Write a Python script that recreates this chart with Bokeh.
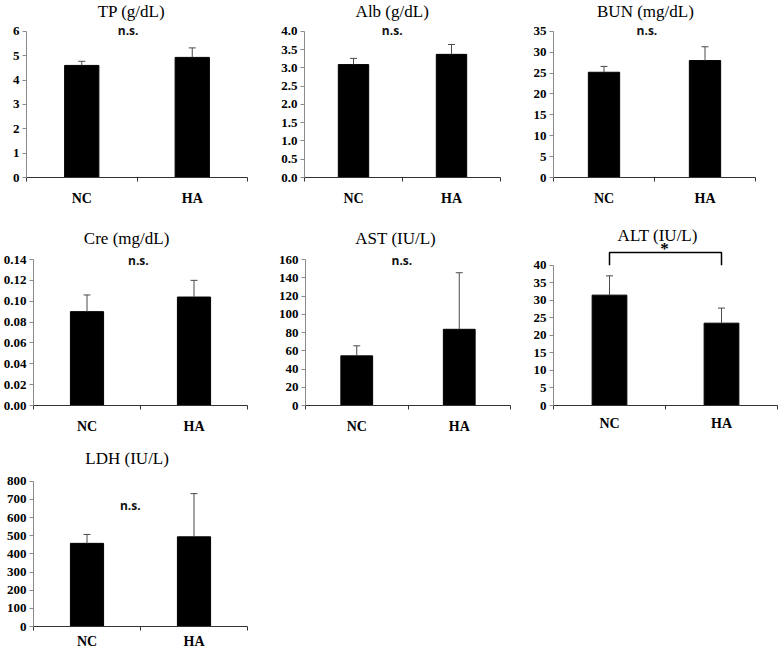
from bokeh.plotting import figure
from bokeh.models import Range1d, FixedTicker, NumeralTickFormatter
from bokeh.layouts import column, row
from bokeh.embed import file_html
from bokeh.resources import INLINE
from bokeh.core.properties import value

# ---------------- data ----------------
groups = ["NC", "HA"]
group_x = [1, 3]

tp_mean = [4.60, 4.93]
tp_sd = [0.17, 0.39]
tp_ticks = [0, 1, 2, 3, 4, 5, 6]

alb_mean = [3.09, 3.37]
alb_sd = [0.17, 0.27]
alb_ticks = [0.0, 0.5, 1.0, 1.5, 2.0, 2.5, 3.0, 3.5, 4.0]

bun_mean = [25.2, 28.0]
bun_sd = [1.4, 3.3]
bun_ticks = [0, 5, 10, 15, 20, 25, 30, 35]

cre_mean = [0.090, 0.104]
cre_sd = [0.016, 0.016]
cre_ticks = [0.00, 0.02, 0.04, 0.06, 0.08, 0.10, 0.12, 0.14]

ast_mean = [54.4, 83.5]
ast_sd = [11.0, 62.0]
ast_ticks = [0, 20, 40, 60, 80, 100, 120, 140, 160]

alt_mean = [31.5, 23.5]
alt_sd = [5.5, 4.3]
alt_ticks = [0, 5, 10, 15, 20, 25, 30, 35, 40]

ldh_mean = [458, 494]
ldh_sd = [49, 238]
ldh_ticks = [0, 100, 200, 300, 400, 500, 600, 700, 800]

SERIF = "Liberation Serif"
SANS = "Open Sans"


def panel(title, mean, sd, ticks, fmt, W, H, left, right, bottom,
          axis_top_px, title_px, title_x, ns_text=None, ns_px=None, ns_x=None,
          star=False, star_px=None, star_x=None, bracket_px=None, standoff=9):
    ymax = ticks[-1]
    frame_h = H - bottom
    axis_h = frame_h - axis_top_px

    def py(px):  # pixel offset from frame top -> data y
        return ymax * (frame_h - px) / axis_h

    p = figure(width=W, height=H, x_range=Range1d(0, 4),
               y_range=Range1d(0, py(0)), output_backend="svg",
               toolbar_location=None, min_border_left=left,
               min_border_right=right, min_border_top=0,
               min_border_bottom=bottom)
    p.outline_line_color = None
    p.xgrid.visible = False
    p.ygrid.visible = False
    p.background_fill_color = "white"
    p.border_fill_color = "white"

    # bars
    p.vbar(x=group_x, top=mean, width=0.62, fill_color="black",
           line_color="black")
    upper = [m + s for m, s in zip(mean, sd)]
    p.segment(x0=group_x, y0=mean, x1=group_x, y1=upper,
              line_color="#4a4a4a", line_width=1)
    p.scatter(x=group_x, y=upper, marker="dash", size=7,
              line_color="#4a4a4a", line_width=1)

    # texts
    p.text(x=[title_x], y=[py(title_px)], text=[title],
           text_font=value(SERIF), text_font_size="17px",
           text_align="center", text_baseline="middle", text_color="black")
    if ns_text:
        p.text(x=[ns_x], y=[py(ns_px)], text=[ns_text],
               text_font=value(SANS), text_font_size="12px",
               text_font_style="bold",
               text_align="center", text_baseline="middle",
               text_color="#111111")
    if star:
        yb = py(bracket_px)
        p.line(x=[group_x[0], group_x[0], group_x[1], group_x[1]],
               y=[ymax, yb, yb, ymax], line_color="black", line_width=1.5)
        p.text(x=[star_x], y=[py(star_px)], text=["*"],
               text_font=value(SERIF), text_font_size="17px",
               text_font_style="bold", text_align="center",
               text_baseline="middle", text_color="black")

    # y axis
    ya = p.yaxis[0]
    ya.ticker = FixedTicker(ticks=ticks)
    ya.bounds = (0, ymax)
    ya.formatter = NumeralTickFormatter(format=fmt)
    ya.axis_line_color = "#8a8a8a"
    ya.major_tick_line_color = "#8a8a8a"
    ya.major_tick_out = 4
    ya.major_tick_in = 0
    ya.minor_tick_line_color = None
    ya.major_label_standoff = 3
    ya.major_label_text_font = SERIF
    ya.major_label_text_font_style = "bold"
    ya.major_label_text_font_size = "13px"
    ya.major_label_text_color = "black"

    # x axis
    xa = p.xaxis[0]
    xa.ticker = FixedTicker(ticks=group_x, minor_ticks=[0, 2, 4])
    xa.major_label_overrides = {group_x[0]: groups[0], group_x[1]: groups[1]}
    xa.axis_line_color = "#333333"
    xa.major_tick_line_color = None
    xa.major_tick_out = 0
    xa.major_tick_in = 0
    xa.minor_tick_line_color = "#333333"
    xa.minor_tick_out = 4
    xa.minor_tick_in = 0
    xa.major_label_standoff = standoff
    xa.major_label_text_font = SERIF
    xa.major_label_text_font_style = "bold"
    xa.major_label_text_font_size = "14px"
    xa.major_label_text_color = "black"
    return p


# row 1
tp = panel("TP (g/dL)", tp_mean, tp_sd, tp_ticks, "0", 278, 208, 26, 31, 30,
           31, 11, 1.90, "n.s.", 30, 1.84)
alb = panel("Alb (g/dL)", alb_mean, alb_sd, alb_ticks, "0.0", 250, 208, 25, 28, 30,
            31, 11, 1.79, "n.s.", 30, 1.79)
bun = panel("BUN (mg/dL)", bun_mean, bun_sd, bun_ticks, "0", 252, 208, 25, 25, 30,
            31, 11, 1.82, "n.s.", 30, 1.85)

# row 2
cre = panel("Cre (mg/dL)", cre_mean, cre_sd, cre_ticks, "0.00", 275, 229, 33, 28, 32,
            51, 30, 1.74, "n.s.", 52, 1.96)
ast = panel("AST (IU/L)", ast_mean, ast_sd, ast_ticks, "0", 255, 229, 27, 20, 32,
            51, 30, 1.76, "n.s.", 52, 1.88)
alt = panel("ALT (IU/L)", alt_mean, alt_sd, alt_ticks, "0", 250, 229, 23, 3, 28,
            58, 28, 1.86, star=True, star_px=41, star_x=1.98, bracket_px=45,
            standoff=6)

# row 3
ldh = panel("LDH (IU/L)", ldh_mean, ldh_sd, ldh_ticks, "0", 257, 214, 33, 10, 24,
            44, 21, 1.75, "n.s.", 68, 1.81, standoff=3)

layout = column(row(tp, alb, bun), row(cre, ast, alt), row(ldh))

open("out.html", "w").write(file_html(layout, INLINE))
